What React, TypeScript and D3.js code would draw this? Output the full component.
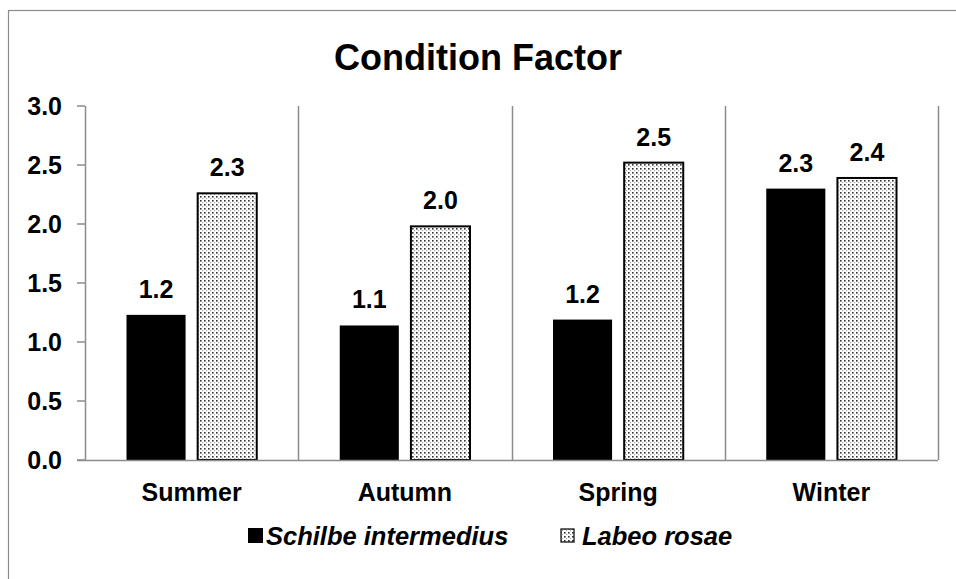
import { useEffect, useRef } from 'react'
import * as d3 from 'd3'

const seasons = ['Summer', 'Autumn', 'Spring', 'Winter']
const series = ['Schilbe intermedius', 'Labeo rosae']
const schilbe = [1.23, 1.14, 1.19, 2.3]
const labeo = [2.26, 1.98, 2.52, 2.39]
const yTicks = [0, 0.5, 1, 1.5, 2, 2.5, 3]

const W = 956
const H = 579
const FONT = '"Liberation Sans", Arial, sans-serif'
const GRAY = '#8c8c8c'

export default function App() {
  const ref = useRef<SVGSVGElement | null>(null)

  useEffect(() => {
    if (!ref.current) return
    const svg = d3.select(ref.current)
    svg.selectAll('*').remove()

    // dotted fill used by the second series
    const defs = svg.append('defs')
    const pat = defs
      .append('pattern')
      .attr('id', 'dots')
      .attr('width', 4)
      .attr('height', 4)
      .attr('patternUnits', 'userSpaceOnUse')
    pat.append('rect').attr('width', 4).attr('height', 4).attr('fill', '#ffffff')
    pat.append('rect').attr('x', 0).attr('y', 0).attr('width', 1.6).attr('height', 1.6).attr('fill', '#333')
    pat.append('rect').attr('x', 2).attr('y', 2).attr('width', 1.2).attr('height', 1.2).attr('fill', '#aaa')

    // chart frame (runs off the right and bottom edge)
    svg.append('rect')
      .attr('x', 8.5).attr('y', 10.5)
      .attr('width', W + 20).attr('height', H + 20)
      .attr('fill', '#fff').attr('stroke', GRAY).attr('stroke-width', 1.2)

    const left = 85
    const right = 938
    const top = 106
    const bottom = 460

    const x = d3.scaleBand<string>().domain(seasons).range([left, right])
    const inner = d3.scaleBand<string>().domain(series).range([41.5, x.bandwidth() - 41.5]).paddingInner(0.17)
    const y = d3.scaleLinear().domain([0, 3]).range([bottom, top])

    svg.append('text')
      .attr('x', 478).attr('y', 70)
      .attr('text-anchor', 'middle')
      .attr('font-family', FONT).attr('font-weight', 'bold').attr('font-size', 36)
      .text('Condition Factor')

    const g = svg.append('g')

    // category separators
    seasons.forEach((s, i) => {
      const xx = Math.round(x(s)! + x.bandwidth()) + 0.5
      g.append('line')
        .attr('x1', i === seasons.length - 1 ? right + 0.5 : xx).attr('x2', i === seasons.length - 1 ? right + 0.5 : xx)
        .attr('y1', top).attr('y2', bottom)
        .attr('stroke', GRAY).attr('stroke-width', 1.5)
    })

    // y axis
    g.append('line')
      .attr('x1', left + 0.5).attr('x2', left + 0.5)
      .attr('y1', top).attr('y2', bottom)
      .attr('stroke', GRAY).attr('stroke-width', 1.5)
    yTicks.forEach((t) => {
      g.append('line')
        .attr('x1', left - 8).attr('x2', left)
        .attr('y1', y(t)).attr('y2', y(t))
        .attr('stroke', GRAY).attr('stroke-width', 1.5)
      g.append('text')
        .attr('x', 62).attr('y', y(t))
        .attr('dy', '0.36em')
        .attr('text-anchor', 'end')
        .attr('font-family', FONT).attr('font-weight', 'bold').attr('font-size', 25)
        .text(t.toFixed(1))
    })

    // bars
    const data = [schilbe, labeo]
    seasons.forEach((s, i) => {
      series.forEach((name, k) => {
        const v = data[k][i]
        const bx = x(s)! + inner(name)!
        const bw = inner.bandwidth()
        g.append('rect')
          .attr('x', bx).attr('y', y(v))
          .attr('width', bw).attr('height', bottom - y(v))
          .attr('fill', k === 0 ? '#000' : 'url(#dots)')
          .attr('stroke', '#000').attr('stroke-width', k === 0 ? 0 : 2)
        g.append('text')
          .attr('x', bx + bw / 2).attr('y', y(v) - 17)
          .attr('text-anchor', 'middle')
          .attr('font-family', FONT).attr('font-weight', 'bold').attr('font-size', 25)
          .text(v.toFixed(1))
      })
      g.append('text')
        .attr('x', x(s)! + x.bandwidth() / 2).attr('y', 501)
        .attr('text-anchor', 'middle')
        .attr('font-family', FONT).attr('font-weight', 'bold').attr('font-size', 25)
        .text(s)
    })

    // x axis line
    g.append('line')
      .attr('x1', left - 8).attr('x2', right)
      .attr('y1', bottom + 0.5).attr('y2', bottom + 0.5)
      .attr('stroke', GRAY).attr('stroke-width', 1.5)

    // legend
    const lg = svg.append('g')
    lg.append('rect').attr('x', 248).attr('y', 528).attr('width', 15).attr('height', 15).attr('fill', '#000')
    lg.append('text')
      .attr('x', 266).attr('y', 545)
      .attr('font-family', FONT).attr('font-weight', 'bold').attr('font-style', 'italic').attr('font-size', 25.5)
      .text(series[0])
    lg.append('rect').attr('x', 561).attr('y', 529).attr('width', 13).attr('height', 13)
      .attr('fill', 'url(#dots)').attr('stroke', '#000').attr('stroke-width', 1.2)
    lg.append('text')
      .attr('x', 582).attr('y', 545)
      .attr('font-family', FONT).attr('font-weight', 'bold').attr('font-style', 'italic').attr('font-size', 25.5)
      .text(series[1])
  }, [])

  return <svg ref={ref} width={W} height={H} style={{ position: 'absolute', left: 0, top: 0, background: '#fff' }} />
}
